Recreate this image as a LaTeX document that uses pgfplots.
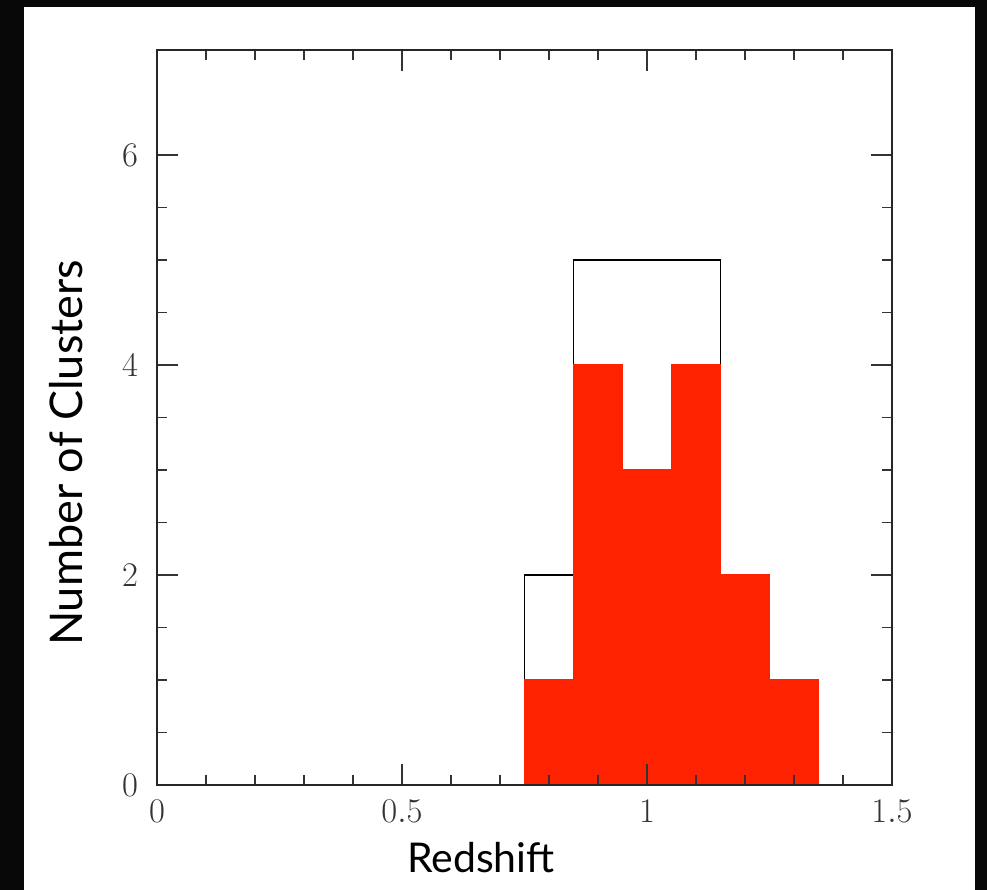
\documentclass[border=0pt]{standalone}
\usepackage{fontspec}
\setmainfont{Lato}
\usepackage{pgfplots}
\pgfplotsset{compat=1.18}
\usetikzlibrary{backgrounds}
\definecolor{histred}{RGB}{255,34,0}
\definecolor{frame}{RGB}{8,8,8}
\begin{document}
\begin{tikzpicture}
  \begin{axis}[
      scale only axis,
      width=367.5pt, height=367.5pt,
      xmin=0, xmax=1.5, ymin=0, ymax=7,
      xtick={0,0.5,1,1.5}, xticklabels={$0$,$0.5$,$1$,$1.5$},
      ytick={0,2,4,6},
      minor x tick num=4, minor y tick num=3,
      tick align=inside,
      major tick length=10.5pt, minor tick length=5pt,
      axis line style={black!85, line width=0.9pt},
      tick style={black!80, line width=0.8pt},
      ticklabel style={font=\fontsize{16}{18}\selectfont, text=black!80},
      xticklabel style={yshift=-4pt},
      yticklabel style={xshift=-6pt},
      axis on top,
      xlabel={Redshift}, ylabel={Number of Clusters},
      xlabel style={font=\fontsize{20.5}{24}\selectfont,
        at={(axis description cs:0.4408,-0.1184)}, anchor=base},
      ylabel style={font=\fontsize{22.5}{26}\selectfont,
        at={(axis description cs:-0.1007,0.4517)}, anchor=base},
    ]
    % all clusters (outline)
    \addplot[black, line width=0.9pt, const plot, mark=none] coordinates {
      (0.75,0) (0.75,2) (0.85,5) (0.95,5) (1.05,5) (1.15,0)
    };
    % selected clusters (filled)
    \addplot[fill=histred, draw=histred, line width=0.9pt, const plot, mark=none] coordinates {
      (0.75,0) (0.75,1) (0.85,4) (0.95,3) (1.05,4) (1.15,2) (1.25,1) (1.35,0)
    } \closedcycle;
  \end{axis}
  \begin{pgfonlayer}{background}
    \fill[frame] (-78.5pt,-52.5pt) rectangle (415pt,392.5pt);
    \fill[white] (-66.5pt,-52.5pt) rectangle (409pt,389pt);
  \end{pgfonlayer}
\end{tikzpicture}
\end{document}
